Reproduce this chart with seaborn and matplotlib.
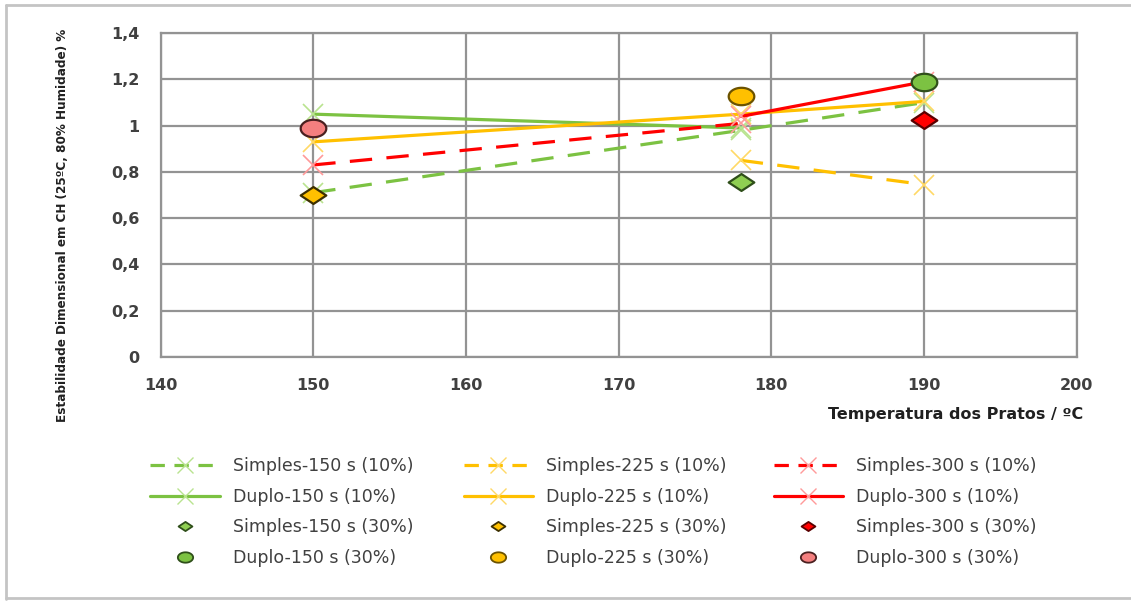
import matplotlib
matplotlib.use("Agg")
import numpy as np
import matplotlib.pyplot as plt
from matplotlib.lines import Line2D
from matplotlib.path import Path
import seaborn as sns

# Plate temperature (ºC) and dimensional stability (%) per series
t_simples150_10 = [150, 178, 190]
v_simples150_10 = [0.71, 0.98, 1.10]
t_simples225_10 = [178, 190]
v_simples225_10 = [0.85, 0.745]
t_simples300_10 = [150, 178]
v_simples300_10 = [0.83, 1.01]

t_duplo150_10 = [150, 178]
v_duplo150_10 = [1.05, 0.99]
t_duplo225_10 = [150, 178, 190]
v_duplo225_10 = [0.93, 1.05, 1.105]
t_duplo300_10 = [178, 190]
v_duplo300_10 = [1.04, 1.19]

t_simples150_30 = [178]
v_simples150_30 = [0.755]
t_simples225_30 = [150]
v_simples225_30 = [0.70]
t_simples300_30 = [190]
v_simples300_30 = [1.025]

t_duplo150_30 = [190]
v_duplo150_30 = [1.19]
t_duplo225_30 = [178]
v_duplo225_30 = [1.13]
t_duplo300_30 = [150]
v_duplo300_30 = [0.99]

x_ticks = [140, 150, 160, 170, 180, 190, 200]
y_ticks = [0, 0.2, 0.4, 0.6, 0.8, 1.0, 1.2, 1.4]
y_tick_labels = ["0", "0,2", "0,4", "0,6", "0,8", "1", "1,2", "1,4"]

sns.set_theme(style="whitegrid")
plt.rcParams["font.family"] = ["DejaVu Sans"]

GREEN, ORANGE, RED = "#7cc242", "#ffc000", "#ff0000"
GREEN_X, ORANGE_X, RED_X = "#b9e38f", "#ffd966", "#ff9a9a"
GRID = "#939393"
TEXT = "#404040"

# Slightly flattened marker shapes (wider than tall)
_t = np.linspace(0, 2 * np.pi, 60)
ELLIPSE = Path(np.column_stack([np.cos(_t), 0.68 * np.sin(_t)]), closed=True)
DIAMOND = Path([(-1, 0), (0, 0.66), (1, 0), (0, -0.66), (-1, 0)], closed=True)

fig = plt.figure(figsize=(11.31, 6.05), dpi=100)
ax = fig.add_axes([0.142, 0.4104, 0.810, 0.5346])

line_series = [
    (t_simples150_10, v_simples150_10, GREEN, GREEN_X, "--", "Simples-150 s (10%)"),
    (t_duplo150_10, v_duplo150_10, GREEN, GREEN_X, "-", "Duplo-150 s (10%)"),
    (t_simples225_10, v_simples225_10, ORANGE, ORANGE_X, "--", "Simples-225 s (10%)"),
    (t_duplo225_10, v_duplo225_10, ORANGE, ORANGE_X, "-", "Duplo-225 s (10%)"),
    (t_simples300_10, v_simples300_10, RED, RED_X, "--", "Simples-300 s (10%)"),
    (t_duplo300_10, v_duplo300_10, RED, RED_X, "-", "Duplo-300 s (10%)"),
]

handles = {}
for tx, vy, col, xcol, ls, lab in line_series:
    sns.lineplot(x=tx, y=vy, ax=ax, color=col, linewidth=2.3, linestyle=ls,
                 marker="x", markersize=14, markeredgewidth=1.2,
                 markeredgecolor=xcol, zorder=3)
    h = ax.lines[-1]
    if ls == "--":
        h.set_dashes((7, 4.5))
    lh = Line2D([], [], color=col, linewidth=2.3, linestyle=ls,
                marker="x", markersize=11, markeredgewidth=1.0,
                markeredgecolor=xcol)
    if ls == "--":
        lh.set_dashes((4.5, 3))
    handles[lab] = lh

point_series = [
    (t_simples150_30, v_simples150_30, "#8fcf52", "#2f4f1a", DIAMOND, "Simples-150 s (30%)"),
    (t_duplo150_30, v_duplo150_30, "#7cc242", "#2f4f1a", ELLIPSE, "Duplo-150 s (30%)"),
    (t_simples225_30, v_simples225_30, "#ffc000", "#3d3000", DIAMOND, "Simples-225 s (30%)"),
    (t_duplo225_30, v_duplo225_30, "#ffc000", "#6b5200", ELLIPSE, "Duplo-225 s (30%)"),
    (t_simples300_30, v_simples300_30, "#ff0000", "#5a0000", DIAMOND, "Simples-300 s (30%)"),
    (t_duplo300_30, v_duplo300_30, "#f47f7f", "#4a2020", ELLIPSE, "Duplo-300 s (30%)"),
]

for tx, vy, fc, ec, mk, lab in point_series:
    sns.scatterplot(x=tx, y=vy, ax=ax, color=fc, edgecolor=ec, marker=mk,
                    s=340, linewidth=1.6, zorder=4)
    handles[lab] = Line2D([], [], linestyle="none", marker=mk,
                          markerfacecolor=fc, markeredgecolor=ec,
                          markeredgewidth=1.3,
                          markersize=10 if mk is DIAMOND else 11)

ax.set_xlim(140, 200)
ax.set_ylim(0, 1.4)
ax.set_xticks(x_ticks)
ax.set_xticklabels([str(v) for v in x_ticks])
ax.set_yticks(y_ticks)
ax.set_yticklabels(y_tick_labels)
ax.grid(True, color=GRID, linewidth=1.6)
for s in ax.spines.values():
    s.set_visible(True)
    s.set_color(GRID)
    s.set_linewidth(1.6)
ax.tick_params(axis="both", which="major", length=7, width=1.6, color=GRID,
               labelsize=11.5, labelcolor=TEXT, pad=8)
for lbl in ax.get_xticklabels() + ax.get_yticklabels():
    lbl.set_fontweight("bold")
ax.set_xlabel("")
ax.set_ylabel("")

fig.text(0.958, 0.315, "Temperatura dos Pratos / ºC", ha="right", va="center",
         fontsize=11.5, fontweight="bold", color="#202020")
fig.text(0.055, 0.628, "Estabilidade Dimensional em CH (25ºC, 80% Humidade) %",
         rotation=90, ha="center", va="center", fontsize=9.6,
         fontweight="bold", color="#202020", fontstretch="condensed",
         family=["Liberation Sans Narrow", "DejaVu Sans"])

# One legend column per treatment time
columns = [
    (0.133, ["Simples-150 s (10%)", "Duplo-150 s (10%)",
             "Simples-150 s (30%)", "Duplo-150 s (30%)"]),
    (0.410, ["Simples-225 s (10%)", "Duplo-225 s (10%)",
             "Simples-225 s (30%)", "Duplo-225 s (30%)"]),
    (0.684, ["Simples-300 s (10%)", "Duplo-300 s (10%)",
             "Simples-300 s (30%)", "Duplo-300 s (30%)"]),
]
for xpos, labs in columns:
    leg = fig.legend([handles[k] for k in labs], labs, loc="upper left",
                     bbox_to_anchor=(xpos, 0.244), frameon=False,
                     fontsize=12.5, handlelength=4.0, handletextpad=0.75,
                     labelspacing=0.72, borderaxespad=0, borderpad=0)
    for t in leg.get_texts():
        t.set_color(TEXT)

# Outer frame of the chart area
frame_kw = dict(color="#c4c4c4", linewidth=2, transform=fig.transFigure)
fig.add_artist(Line2D([0.005, 0.005], [0.01, 0.992], **frame_kw))
fig.add_artist(Line2D([0.005, 1.0], [0.992, 0.992], **frame_kw))
fig.add_artist(Line2D([0.005, 1.0], [0.011, 0.011], **frame_kw))

fig.savefig("out.png", dpi=100)
